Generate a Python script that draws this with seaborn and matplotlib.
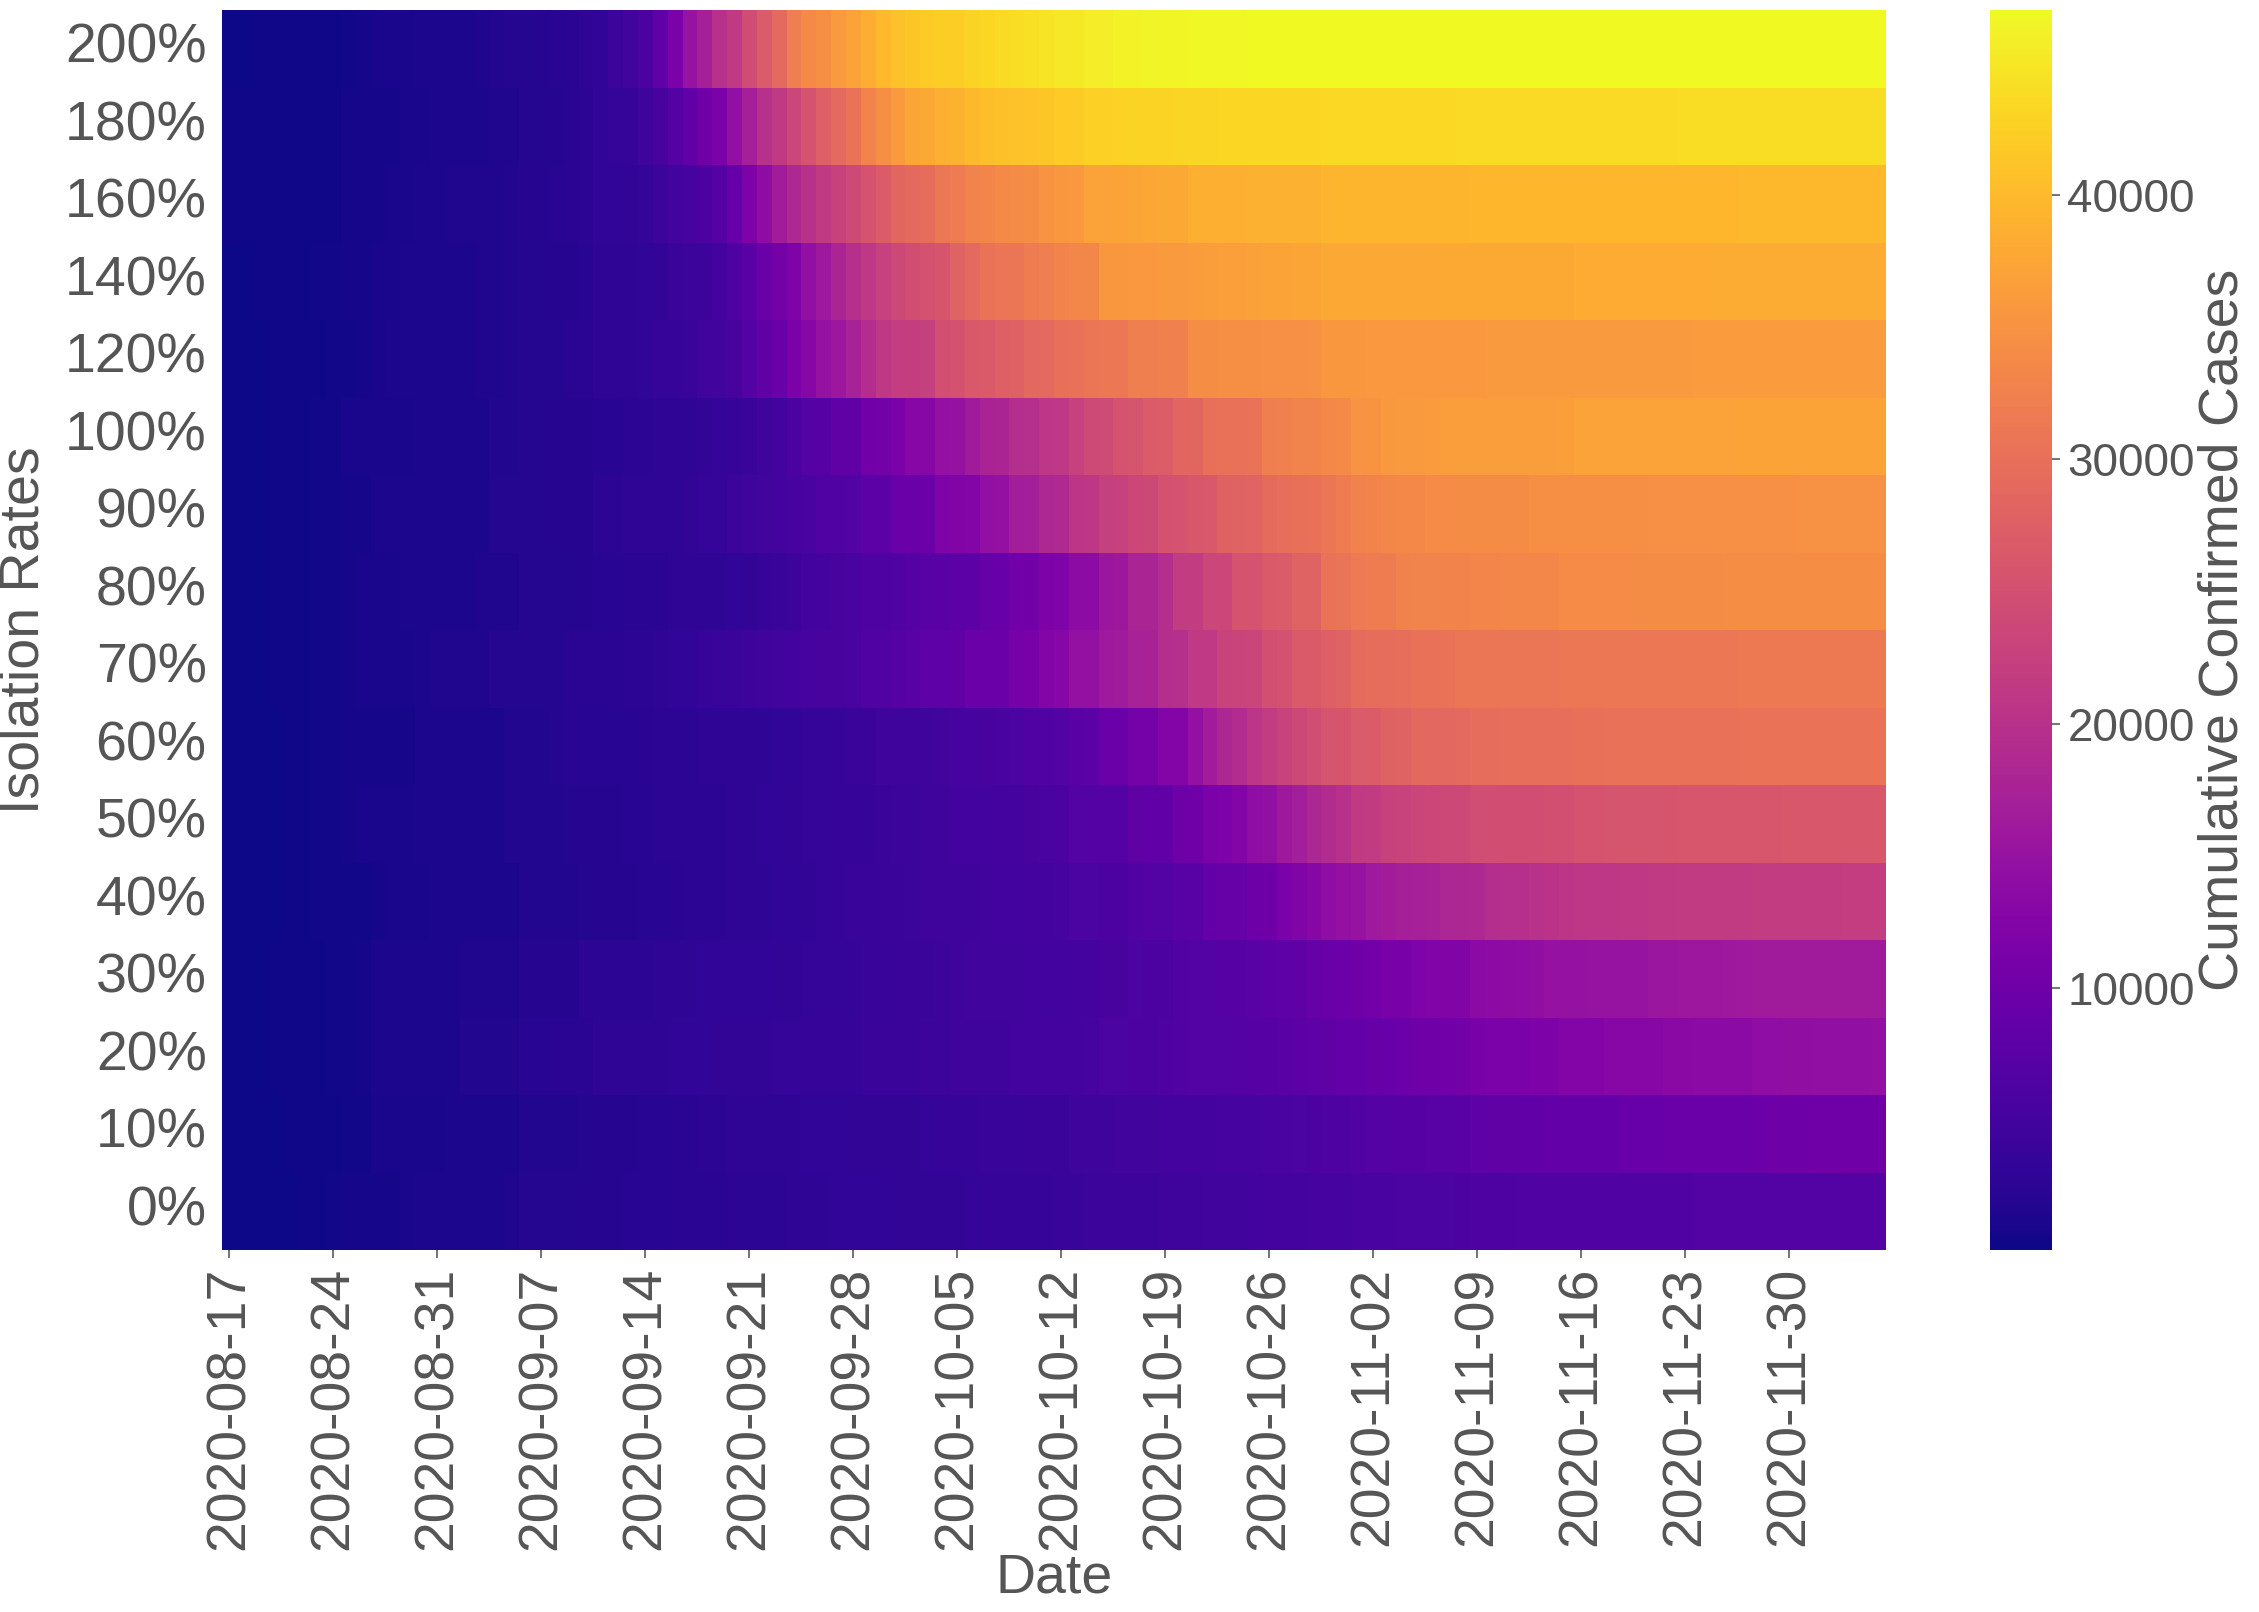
import numpy as np
import pandas as pd
import seaborn as sns
import matplotlib.pyplot as plt

# daily columns, 2020-08-17 .. 2020-12-06
dates = pd.date_range("2020-08-17", "2020-12-06", freq="D").strftime("%Y-%m-%d")
rates = ["200%", "180%", "160%", "140%", "120%", "100%", "90%", "80%",
         "70%", "60%", "50%", "40%", "30%", "20%", "10%", "0%"]

# cumulative confirmed cases per isolation rate
r200 = [250, 270, 290, 310, 340, 370, 400, 440, 560, 650, 850, 920, 1000, 1080,
        1200, 1280, 1380, 1480, 1600, 1750, 1900, 2050, 2200, 2450, 2750, 3200,
        4200, 4700, 6000, 8000, 11500, 15000, 17000, 20000, 21500, 24300, 26700, 29000,
        32000, 33800, 34500, 36000, 37000, 38500, 40000, 40800, 41500, 41800, 42100, 42400,
        42800, 43200, 43600, 44000, 44400, 44700, 45000, 45300, 45600, 45900, 46100, 46250,
        46400, 46500, 46600, 46650, 46700, 46750, 46800, 46820,
        46830, 46840, 46850, 46860, 46870, 46880, 46890, 46900, 46905, 46910, 46915, 46920,
        46925, 46930, 46935, 46940, 46945, 46950, 46955, 46960, 46962, 46964, 46966, 46968,
        46970, 46972, 46974, 46976, 46978, 46980, 46982, 46984, 46986, 46988, 46990, 46992,
        46994, 46995, 46996, 46997, 46998, 47000]
r180 = [300, 310, 330, 350, 370, 390, 410, 430, 650, 700, 750, 800, 850, 900,
        1200, 1250, 1300, 1370, 1430, 1500, 1800, 1900, 2000, 2450, 2550, 3200, 3450, 3700,
        4500, 5500, 7000, 8500, 10000, 11300, 14500, 17000, 20000, 21500, 23500, 25500,
        27500, 29000, 30500, 33000, 34500, 36000, 37300, 37700, 38600, 39000, 39800, 40500,
        40700, 40900, 41100, 41500, 41700, 41900, 42500, 42600, 42700, 42800, 42850, 42900,
        43000, 43100, 43150, 43200, 43220, 43240, 43260, 43280, 43300, 43320, 43340, 43360,
        43380, 43400, 43420, 43440, 43460, 43480, 43500, 43520, 43540, 43560, 43580, 43600,
        43610, 43620, 43630, 43640, 43650, 43660, 43670, 43680, 43690, 43700, 43710, 43720,
        43730, 43740, 43750, 43760, 43770, 43780, 43785, 43790, 43795, 43800, 43805, 43810]
r160 = [300, 320, 340, 360, 380, 400, 420, 450, 780, 800, 820, 840, 860, 1100, 1150,
        1400, 1450, 1500, 1550, 1600, 2000, 2100, 2200, 2350, 2500, 3100, 3200, 3300, 3400,
        4300, 5000, 5300, 6000, 7000, 9200, 11700, 14000, 16500, 18500, 20000, 21500,
        22800, 24000, 25500, 27000, 28500, 29000, 29500, 31200, 31700, 32800, 33200, 33800,
        34000, 34300, 35200, 35500, 35800, 37000, 37100, 37250, 37400, 37550, 37700, 37800,
        38600, 38650, 38700, 38750, 38800, 38820, 38840, 38860, 38900, 39300, 39320, 39340,
        39360, 39380, 39400, 39420, 39440, 39460, 39480, 39500, 39510, 39520, 39530, 39540,
        39550, 39560, 39570, 39580, 39590, 39600, 39610, 39620, 39630, 39640, 39650, 39660,
        39670, 39680, 39690, 39700, 39710, 39720, 39730, 39740, 39750, 39760, 39770]
r140 = [250, 270, 290, 310, 330, 350, 550, 600, 650, 700, 900, 950, 1050, 1100,
        1300, 1330, 1360, 1400, 1450, 1700, 1800, 1900, 2000, 2100, 2200,
        2800, 2900, 3000, 3150, 3300, 4000, 4150, 4300,
        5200, 6300, 7600, 9500, 10700, 12000, 14400, 16000, 18000, 19800, 21000, 22500,
        23800, 24800, 25200, 25800, 28000, 29000, 30500, 30700, 31000, 31800, 32000, 33000,
        33300, 33400, 35500, 35600, 35700, 35800, 35900, 36000, 36200, 36400, 36600, 36700,
        36800, 37200, 37250, 37300, 37350, 37700, 37720, 37740, 37760, 37780, 37800, 37820,
        37840, 37860, 37880, 37900, 37920, 37940, 37960, 37980, 38000, 38020, 38040, 38060,
        38080, 38100, 38120, 38140, 38160, 38180, 38200, 38210, 38220, 38230, 38240, 38250,
        38260, 38270, 38280, 38285, 38290, 38295, 38300]
r120 = [200, 230, 260, 300, 340, 380, 430, 500, 580, 650, 1000, 1030, 1060, 1100,
        1300, 1340, 1380, 1420, 1460, 1700, 1750, 1800, 1850, 2300, 2400,
        2900, 2950, 3000, 3100, 3600, 3700, 3800,
        4700, 4800, 5500, 6700, 8200, 9600, 11500, 13000, 14800, 15800, 17500, 19300,
        21000, 22000, 22200, 22400, 25000, 25200, 26400, 26600, 27400, 27600, 28700, 28900,
        30000, 30200, 31000, 31100, 31200, 32200, 32300, 32400, 32500, 34300, 34350, 34400,
        34450, 34500, 34550, 34600, 34700, 34800, 35500, 35550, 35600, 35650, 35700, 35720,
        35740, 35760, 35780, 35800, 35820, 35840, 35860, 35880, 35900, 35910, 35920, 35930,
        35940, 35950, 35960, 35970, 35980, 35990, 36000, 36010, 36020, 36030, 36040, 36050,
        36060, 36070, 36080, 36090, 36100, 36110, 36120, 36130]
r100 = [200, 240, 280, 320, 370, 420, 480, 560, 880, 900, 920, 940, 960, 1100, 1150,
        1300, 1330, 1360, 1650, 1700, 1750, 1800, 2000, 2050, 2100, 2150, 2200,
        2600, 2650, 2700, 2750, 2800, 3300, 3450, 3600, 3900,
        4600, 5200, 6000, 7000, 7100, 8200, 8300, 10300, 10400, 11500, 12800, 12900,
        14700, 14900, 16300, 17700, 17900, 19400, 19600, 20900, 21100, 22500, 24000, 24100,
        25400, 25600, 26900, 27100, 28400, 28600, 30000, 30200, 30300, 30400, 32300, 32500,
        32800, 33000, 33500, 33700, 35000, 35200, 35800, 36000, 36000, 36100, 36400, 36420,
        36440, 36460, 36480, 36500, 36520, 36550, 36600, 37000, 37010, 37020, 37030, 37040,
        37050, 37060, 37070, 37080, 37090, 37100, 37110, 37120, 37130, 37140, 37150, 37160,
        37170, 37180, 37190, 37200]
r90 = [200, 240, 280, 320, 370, 420, 480, 560, 650, 750, 1050, 1080, 1100, 1120, 1150,
       1300, 1320, 1350, 1750, 1800, 1850, 1900, 1950, 2000, 2050,
       2500, 2600, 2700, 2750, 2800, 2900, 3300, 3400, 3500,
       4300, 4500, 4800, 4900, 5400, 5600, 6500, 6600, 6700, 7700, 7900, 9300,
       9500, 9700, 12000, 12300, 12600, 14400, 14700, 16600, 16900, 18500, 18700, 20700,
       20900, 22400, 22600, 23700, 23900, 25200, 25400, 26200, 26400, 27800, 28000, 28200,
       29400, 29700, 30000, 30300, 31000, 31800, 32700, 32900, 33400, 33500, 33600, 33900,
       33950, 34000, 34030, 34060, 34080, 34100, 34400, 34420, 34440, 34460, 34480, 34500,
       34520, 34540, 34560, 34580, 34600, 34620, 34640, 34660, 34680, 34700, 34710, 34720,
       34730, 34740, 34750, 34760, 34780, 34800]
r80 = [200, 240, 280, 330, 380, 440, 500, 580, 680, 950, 980, 1000, 1020, 1040, 1060,
       1350, 1380, 1400, 1430, 1450, 1850, 1880, 1900, 1930, 1950,
       2250, 2280, 2300, 2330, 2350, 2700, 2750, 2800, 2900,
       3200, 3300, 3600, 3900, 4200, 5000, 5200, 5500, 5700, 6200, 6300, 6500,
       7200, 7400, 7600, 7800, 7900, 9000, 9100, 10200, 10300, 11800, 11900, 13700,
       13800, 15600, 15700, 17900, 18000, 19500, 21800, 21900, 23500, 23600, 25400, 25500,
       26600, 26700, 28000, 28100, 30400, 30600, 31500, 31700, 31900, 32700, 32800, 32850,
       32900, 32950, 33200, 33250, 33300, 33350, 33400, 33420, 33900, 33920, 33940, 33960,
       33980, 34000, 34020, 34040, 34060, 34080, 34100, 34200, 34200, 34210, 34210, 34220,
       34220, 34230, 34230, 34240, 34240, 34250]
r70 = [150, 200, 250, 300, 350, 420, 500, 600, 800, 850, 900, 950, 1000, 1100,
       1400, 1420, 1440, 1460, 1800, 1820, 1840, 1860, 1880,
       2300, 2350, 2400, 2450, 2500, 2600, 3000, 3050, 3100,
       3700, 3900, 4100, 4300, 4600, 4800, 5000, 5400, 5500, 5500, 5600, 6500,
       6600, 7200, 7300, 8000, 8100, 8200, 9300, 9400, 9500, 11000, 11100, 12700,
       12800, 14600, 14700, 16200, 16300, 17500, 17600, 19500, 19600, 21200, 21300, 23000,
       23100, 23200, 25000, 25100, 26500, 26600, 27500, 28000, 29400, 29500, 29550, 29600,
       30200, 30300, 30400, 30900, 30920, 30940, 30960, 30980, 31000, 31000, 31200, 31200,
       31200, 31200, 31200, 31200, 31210, 31210, 31210, 31220, 31220, 31220, 31300, 31300,
       31300, 31300, 31300, 31300, 31310, 31310, 31320, 31320]
r60 = [150, 180, 220, 270, 330, 400, 470, 550, 700, 720, 750, 770, 790,
       1100, 1150, 1200, 1250, 1300, 1350, 1650, 1700, 1720, 1750,
       2200, 2220, 2240, 2260, 2280, 2300, 2600, 2630, 2660, 2700, 2730, 2760, 2800,
       3000, 3100, 3200, 3400, 3500, 3550, 4000, 4050, 4400, 4450, 4500, 4600,
       4700, 5300, 5400, 5500, 5700, 5800, 6500, 6600, 6700, 7600, 7700, 9300,
       9400, 10800, 10900, 12600, 12700, 14600, 16500, 18300, 19000, 20800, 21800, 23000,
       23800, 24600, 25600, 25800, 26700, 26900, 27900, 28100, 28700, 28800, 28850, 28900,
       29500, 29550, 29600, 29620, 29640, 29660, 29700, 30100, 30130, 30160, 30180, 30200,
       30300, 30300, 30310, 30310, 30320, 30320, 30330, 30330, 30340, 30340, 30350, 30350,
       30360, 30370, 30380, 30400]
r50 = [150, 180, 220, 270, 330, 400, 470, 550, 650, 880, 900, 920, 940,
       1150, 1180, 1200, 1220, 1250, 1280, 1650, 1680, 1700, 1720, 1750,
       2050, 2080, 2100, 2120, 2150, 2550, 2580, 2600, 2620, 2650,
       2850, 2900, 3150, 3200, 3250, 3550, 3580, 3600, 3630, 3650, 4100, 4200,
       4300, 4400, 4500, 4950, 5000, 5000, 5050, 5100, 5500, 5700, 6000, 6800,
       6850, 6900, 6950, 8300, 8400, 8500, 9900, 10000, 11300, 11800, 12400, 14200,
       14400, 16000, 16800, 18200, 19000, 20000, 21400, 21700, 22800, 23000, 23200, 23700,
       23800, 23900, 24600, 24650, 24700, 24750, 24800, 24850, 24900, 25500, 25550, 25600,
       25650, 25700, 25720, 25750, 26000, 26020, 26040, 26060, 26080, 26100, 26110, 26120,
       26130, 26140, 26150, 26160, 26180, 26200]
r40 = [150, 180, 220, 260, 300, 340, 500, 530, 560, 590, 820, 850, 870, 900,
       1100, 1150, 1200, 1250, 1300, 1380, 1650, 1680, 1700, 1720, 1750,
       2050, 2080, 2100, 2130, 2150, 2450, 2500, 2550, 2600, 2700, 2800,
       3000, 3100, 3200, 3300, 3400, 3500, 3850, 3900, 3950, 4000, 4300, 4350,
       4400, 4450, 4500, 4850, 4900, 5000, 5100, 5200, 5300, 5900, 5950, 6000,
       6050, 6600, 6700, 6800, 7300, 7400, 8800, 8900, 9000, 9900, 10100, 11400,
       12200, 13000, 14200, 14700, 15000, 16200, 16500, 17100, 17300, 17500, 18100, 18300,
       18500, 19400, 19600, 19800, 20100, 20400, 20800, 20850, 20900, 20950, 21000, 21000,
       21500, 21530, 21560, 21600, 21630, 21660, 21700, 21730, 21760, 21800, 21830, 21860,
       21900, 21930, 21960, 22000]
r30 = [150, 200, 250, 300, 350, 400, 450, 530, 600, 700, 1050, 1080, 1100, 1120, 1150, 1180,
       1450, 1480, 1500, 1530, 1950, 1980, 2000, 2030,
       2500, 2550, 2600, 2620, 2650, 2680, 3000, 3030, 3060, 3100, 3130, 3160, 3200,
       3350, 3380, 3400, 3420, 3440, 3460, 3850, 3900, 3950, 4000, 4100, 4200,
       4650, 4700, 4750, 4800, 4850, 4900, 4950, 5000, 5050, 5100, 5450, 5500,
       5950, 6000, 6050, 6650, 6700, 6750, 7150, 7200, 7250, 7800, 8000, 8300,
       9000, 9500, 9800, 10100, 10300, 11100, 11200, 12000, 12100, 12200, 12300, 13500,
       13700, 13900, 14100, 14300, 14800, 14850, 14900, 14950, 15000, 15050, 15100,
       15600, 15650, 15700, 15750, 15800, 15900, 16200, 16230, 16260, 16290, 16310,
       16330, 16350, 16370, 16390, 16400]
r20 = [150, 200, 250, 300, 350, 400, 450, 530, 600, 700, 1050, 1080, 1100, 1120, 1150, 1180,
       1650, 1680, 1700, 1730, 2200, 2250, 2300, 2320, 2350,
       2750, 2780, 2800, 2820, 2850, 3150, 3180, 3200, 3230, 3260, 3300, 3350,
       3550, 3580, 3600, 3620, 3640, 3660, 4050, 4080, 4100, 4120, 4140, 4160,
       4550, 4600, 4620, 4650, 4950, 5000, 5050, 5100, 5200, 5300, 5850, 5900,
       6000, 6100, 6200, 6650, 6700, 6720, 6750, 7050, 7100, 7150, 7600, 7700,
       8100, 8300, 8600, 8800, 9000, 9200, 9700, 9900, 10100, 10300, 10500, 11100,
       11300, 11500, 11600, 11700, 11800, 12500, 12600, 12700, 12750, 12800, 12850, 12900,
       13300, 13400, 13500, 13550, 13600, 13650, 14100, 14200, 14300, 14350, 14400, 14450,
       14500, 14550, 14600]
r10 = [150, 190, 230, 270, 310, 350, 400, 460, 530, 620, 880, 900, 920, 940, 960,
       1250, 1280, 1300, 1320, 1350, 1650, 1680, 1700, 1720, 1750,
       2050, 2080, 2100, 2120, 2150, 2450, 2480, 2500, 2520, 2750, 2780, 2800, 2850, 2900,
       3150, 3180, 3200, 3230, 3260, 3300, 3330, 3360, 3400, 3650, 3700, 3750,
       3800, 3850, 3900, 3950, 3980, 4000, 4350, 4400, 4450, 4750, 4800, 4850,
       4900, 5150, 5200, 5220, 5250, 5280, 5300, 5600, 5700, 5800, 6100, 6200,
       6300, 6400, 6900, 7000, 7100, 7200, 7300, 7400, 7500, 8100, 8200, 8300, 8400, 8500,
       8550, 8600, 8650, 8700, 8800, 9100, 9200, 9250, 9300, 9350, 9400, 9450, 9500, 9600,
       9800, 9850, 9900, 9950, 10000, 10000, 10050, 10100, 10100]
r0 = [100, 130, 170, 210, 260, 320, 400, 480, 750, 780, 800, 820, 850,
      1150, 1200, 1250, 1300, 1330, 1360, 1400, 1750, 1780, 1800, 1830,
      2050, 2080, 2100, 2120, 2150, 2180, 2350, 2380, 2400, 2420, 2550, 2580, 2600, 2650, 2700,
      2950, 3000, 3050, 3100, 3150, 3200, 3220, 3250, 3280, 3300, 3320,
      3550, 3600, 3650, 3700, 3720, 3750, 3780, 3800, 4150, 4180, 4200, 4230, 4250,
      4550, 4600, 4650, 4700, 4750, 4800, 4900, 5050, 5100, 5150, 5250, 5300, 5350,
      5650, 5700, 5750, 5800, 5850, 5900, 5950, 6000,
      6250, 6280, 6300, 6330, 6350, 6380, 6400, 6420, 6440, 6460, 6480, 6500, 6520,
      6650, 6680, 6700, 6720, 6740, 6760, 6780, 6800, 6820, 6840, 6860, 6870, 6880, 6890, 6900]

rows = [r200, r180, r160, r140, r120, r100, r90, r80, r70, r60, r50, r40, r30, r20, r10, r0]
for name, r in zip(rates, rows):
    if len(r) != len(dates):
        raise ValueError(f"{name}: {len(r)} values")

data = pd.DataFrame(rows, index=rates, columns=dates)

sns.set_style("white")
plt.rcParams['font.family'] = ['Liberation Sans', 'DejaVu Sans']
grey = '#555555'

fig = plt.figure(figsize=(22.59, 16.12), dpi=100)
ax = fig.add_axes([222 / 2259, 1 - 1250 / 1612, 1664 / 2259, 1240 / 1612])
cax = fig.add_axes([1990 / 2259, 1 - 1250 / 1612, 62 / 2259, 1240 / 1612])

sns.heatmap(data, cmap="plasma", ax=ax, cbar_ax=cax, xticklabels=7, yticklabels=True,
            cbar_kws={"label": "Cumulative Confirmed Cases"})

ax.set_xlabel("Date", fontsize=40, color=grey, labelpad=2)
ax.set_ylabel("Isolation Rates", fontsize=40, color=grey)
ax.yaxis.set_label_coords(-0.103, 0.5)
ax.tick_params(axis='x', labelsize=40, labelcolor=grey, rotation=90,
               bottom=True, length=6, width=1.5, color='#777777', pad=6)
ax.tick_params(axis='y', labelsize=40, labelcolor=grey, rotation=0,
               left=False, length=0, pad=11)

cax.tick_params(labelsize=33, labelcolor=grey, right=True, length=6, width=1.5,
                color='#777777', pad=5)
cax.yaxis.label.set_size(40)
cax.yaxis.label.set_color(grey)
cax.yaxis.labelpad = 2

fig.savefig("out.png", dpi=100)
